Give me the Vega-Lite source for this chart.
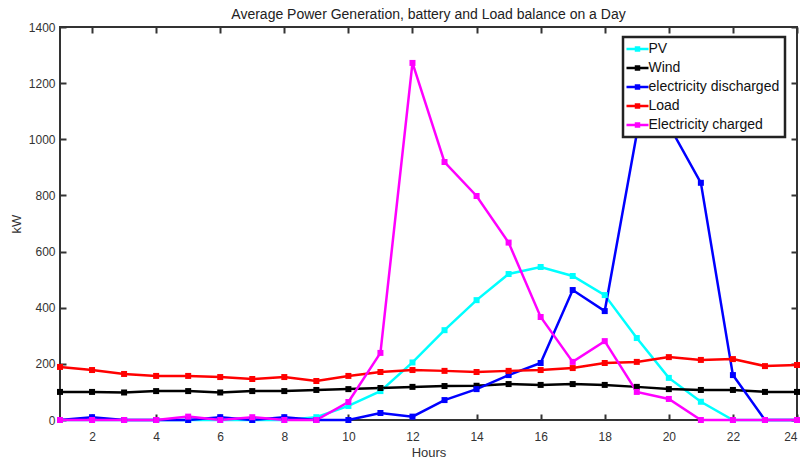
{
  "$schema": "https://vega.github.io/schema/vega-lite/v6.json",
  "width": 737,
  "height": 393,
  "autosize": "none",
  "padding": {"left": 60, "top": 27, "right": 7, "bottom": 41},
  "background": "white",
  "title": {
    "text": "Average Power Generation, battery and Load balance on a Day",
    "font": "Liberation Sans, Arial",
    "fontSize": 14,
    "fontWeight": "normal",
    "color": "#222",
    "offset": -1
  },
  "config": {
    "view": {"stroke": "#333", "strokeWidth": 2},
    "axis": {
      "labelFont": "Liberation Sans, Arial",
      "titleFont": "Liberation Sans, Arial",
      "labelFontSize": 12,
      "titleFontSize": 13,
      "titleFontWeight": "normal",
      "labelColor": "#333",
      "titleColor": "#333",
      "domain": false,
      "grid": false,
      "tickColor": "#333",
      "tickWidth": 2,
      "tickSize": 6,
      "offset": -6
    },
    "legend": {
      "labelFont": "Liberation Sans, Arial",
      "labelFontSize": 14,
      "labelColor": "#111",
      "symbolStrokeWidth": 2.5
    }
  },
  "data": {
    "values": [
      {"h": 1, "s": "PV", "kW": 0}, {"h": 2, "s": "PV", "kW": 0}, {"h": 3, "s": "PV", "kW": 0}, {"h": 4, "s": "PV", "kW": 0},
      {"h": 5, "s": "PV", "kW": 0}, {"h": 6, "s": "PV", "kW": 0}, {"h": 7, "s": "PV", "kW": 0}, {"h": 8, "s": "PV", "kW": 0},
      {"h": 9, "s": "PV", "kW": 10}, {"h": 10, "s": "PV", "kW": 50}, {"h": 11, "s": "PV", "kW": 103}, {"h": 12, "s": "PV", "kW": 205},
      {"h": 13, "s": "PV", "kW": 320}, {"h": 14, "s": "PV", "kW": 427}, {"h": 15, "s": "PV", "kW": 520}, {"h": 16, "s": "PV", "kW": 545},
      {"h": 17, "s": "PV", "kW": 513}, {"h": 18, "s": "PV", "kW": 445}, {"h": 19, "s": "PV", "kW": 292}, {"h": 20, "s": "PV", "kW": 150},
      {"h": 21, "s": "PV", "kW": 65}, {"h": 22, "s": "PV", "kW": 0}, {"h": 23, "s": "PV", "kW": 0}, {"h": 24, "s": "PV", "kW": 0},

      {"h": 1, "s": "Wind", "kW": 100}, {"h": 2, "s": "Wind", "kW": 100}, {"h": 3, "s": "Wind", "kW": 98}, {"h": 4, "s": "Wind", "kW": 103},
      {"h": 5, "s": "Wind", "kW": 103}, {"h": 6, "s": "Wind", "kW": 98}, {"h": 7, "s": "Wind", "kW": 103}, {"h": 8, "s": "Wind", "kW": 103},
      {"h": 9, "s": "Wind", "kW": 107}, {"h": 10, "s": "Wind", "kW": 110}, {"h": 11, "s": "Wind", "kW": 114}, {"h": 12, "s": "Wind", "kW": 118},
      {"h": 13, "s": "Wind", "kW": 121}, {"h": 14, "s": "Wind", "kW": 122}, {"h": 15, "s": "Wind", "kW": 128}, {"h": 16, "s": "Wind", "kW": 125},
      {"h": 17, "s": "Wind", "kW": 128}, {"h": 18, "s": "Wind", "kW": 125}, {"h": 19, "s": "Wind", "kW": 118}, {"h": 20, "s": "Wind", "kW": 110},
      {"h": 21, "s": "Wind", "kW": 107}, {"h": 22, "s": "Wind", "kW": 107}, {"h": 23, "s": "Wind", "kW": 100}, {"h": 24, "s": "Wind", "kW": 100},

      {"h": 1, "s": "electricity discharged", "kW": 0}, {"h": 2, "s": "electricity discharged", "kW": 10}, {"h": 3, "s": "electricity discharged", "kW": 0}, {"h": 4, "s": "electricity discharged", "kW": 0},
      {"h": 5, "s": "electricity discharged", "kW": 0}, {"h": 6, "s": "electricity discharged", "kW": 10}, {"h": 7, "s": "electricity discharged", "kW": 0}, {"h": 8, "s": "electricity discharged", "kW": 10},
      {"h": 9, "s": "electricity discharged", "kW": 0}, {"h": 10, "s": "electricity discharged", "kW": 0}, {"h": 11, "s": "electricity discharged", "kW": 25}, {"h": 12, "s": "electricity discharged", "kW": 12},
      {"h": 13, "s": "electricity discharged", "kW": 71}, {"h": 14, "s": "electricity discharged", "kW": 110}, {"h": 15, "s": "electricity discharged", "kW": 160}, {"h": 16, "s": "electricity discharged", "kW": 203},
      {"h": 17, "s": "electricity discharged", "kW": 463}, {"h": 18, "s": "electricity discharged", "kW": 388}, {"h": 19, "s": "electricity discharged", "kW": 1020}, {"h": 20, "s": "electricity discharged", "kW": 1050},
      {"h": 21, "s": "electricity discharged", "kW": 845}, {"h": 22, "s": "electricity discharged", "kW": 160}, {"h": 23, "s": "electricity discharged", "kW": 0}, {"h": 24, "s": "electricity discharged", "kW": 0},

      {"h": 1, "s": "Load", "kW": 189}, {"h": 2, "s": "Load", "kW": 178}, {"h": 3, "s": "Load", "kW": 164}, {"h": 4, "s": "Load", "kW": 157},
      {"h": 5, "s": "Load", "kW": 157}, {"h": 6, "s": "Load", "kW": 153}, {"h": 7, "s": "Load", "kW": 146}, {"h": 8, "s": "Load", "kW": 153},
      {"h": 9, "s": "Load", "kW": 139}, {"h": 10, "s": "Load", "kW": 157}, {"h": 11, "s": "Load", "kW": 171}, {"h": 12, "s": "Load", "kW": 178},
      {"h": 13, "s": "Load", "kW": 175}, {"h": 14, "s": "Load", "kW": 171}, {"h": 15, "s": "Load", "kW": 175}, {"h": 16, "s": "Load", "kW": 178},
      {"h": 17, "s": "Load", "kW": 185}, {"h": 18, "s": "Load", "kW": 203}, {"h": 19, "s": "Load", "kW": 207}, {"h": 20, "s": "Load", "kW": 224},
      {"h": 21, "s": "Load", "kW": 214}, {"h": 22, "s": "Load", "kW": 217}, {"h": 23, "s": "Load", "kW": 192}, {"h": 24, "s": "Load", "kW": 196},

      {"h": 1, "s": "Electricity charged", "kW": 0}, {"h": 2, "s": "Electricity charged", "kW": 0}, {"h": 3, "s": "Electricity charged", "kW": 0}, {"h": 4, "s": "Electricity charged", "kW": 0},
      {"h": 5, "s": "Electricity charged", "kW": 12}, {"h": 6, "s": "Electricity charged", "kW": 0}, {"h": 7, "s": "Electricity charged", "kW": 10}, {"h": 8, "s": "Electricity charged", "kW": 0},
      {"h": 9, "s": "Electricity charged", "kW": 0}, {"h": 10, "s": "Electricity charged", "kW": 64}, {"h": 11, "s": "Electricity charged", "kW": 239}, {"h": 12, "s": "Electricity charged", "kW": 1272},
      {"h": 13, "s": "Electricity charged", "kW": 919}, {"h": 14, "s": "Electricity charged", "kW": 798}, {"h": 15, "s": "Electricity charged", "kW": 632}, {"h": 16, "s": "Electricity charged", "kW": 367},
      {"h": 17, "s": "Electricity charged", "kW": 207}, {"h": 18, "s": "Electricity charged", "kW": 281}, {"h": 19, "s": "Electricity charged", "kW": 100}, {"h": 20, "s": "Electricity charged", "kW": 75},
      {"h": 21, "s": "Electricity charged", "kW": 0}, {"h": 22, "s": "Electricity charged", "kW": 0}, {"h": 23, "s": "Electricity charged", "kW": 0}, {"h": 24, "s": "Electricity charged", "kW": 0}
    ]
  },
  "encoding": {
    "color": {
      "field": "s",
      "type": "nominal",
      "scale": {
        "domain": ["PV", "Wind", "electricity discharged", "Load", "Electricity charged"],
        "range": ["#00FFFF", "#000000", "#0000FF", "#FF0000", "#FF00FF"]
      },
      "legend": {
        "title": null,
        "orient": "none",
        "legendX": 563,
        "legendY": 10,
        "fillColor": "white",
        "strokeColor": "#222",
        "padding": 5,
        "symbolType": "M-2,0H2M-0.27,-0.27H0.27V0.27H-0.27Z",
        "symbolSize": 121,
        "symbolOffset": 2.5,
        "labelOffset": 4,
        "rowPadding": 5,
        "encode": {"legend": {"update": {"strokeWidth": {"value": 2.5}}}}
      }
    }
  },
  "layer": [
    {
      "mark": {"type": "line", "strokeWidth": 2.5},
      "encoding": {
        "x": {
          "field": "h",
          "type": "quantitative",
          "scale": {"domain": [1, 24], "nice": false, "zero": false},
          "axis": {"orient": "bottom", "values": [2, 4, 6, 8, 10, 12, 14, 16, 18, 20, 22, 24], "title": "Hours", "labelPadding": 11, "titlePadding": 4}
        },
        "y": {
          "field": "kW",
          "type": "quantitative",
          "scale": {"domain": [0, 1400], "nice": false},
          "axis": {"orient": "left", "values": [0, 200, 400, 600, 800, 1000, 1200, 1400], "format": "d", "title": "kW", "labelPadding": 5, "titlePadding": 5}
        }
      }
    },
    {
      "mark": {"type": "point", "shape": "square", "filled": true, "size": 36, "opacity": 1},
      "encoding": {
        "x": {
          "field": "h",
          "type": "quantitative",
          "axis": {"orient": "top", "values": [2, 4, 6, 8, 10, 12, 14, 16, 18, 20, 22, 24], "labels": false, "title": null}
        },
        "y": {
          "field": "kW",
          "type": "quantitative",
          "axis": {"orient": "right", "values": [0, 200, 400, 600, 800, 1000, 1200, 1400], "labels": false, "title": null}
        }
      }
    }
  ],
  "resolve": {"axis": {"x": "independent", "y": "independent"}}
}
